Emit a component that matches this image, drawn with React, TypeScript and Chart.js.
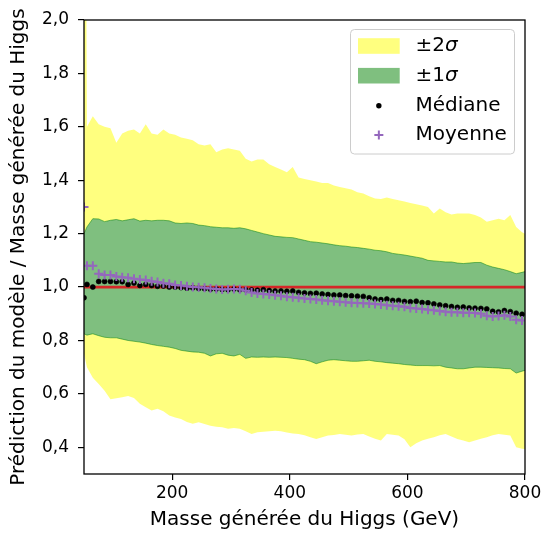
import React, { useEffect, useRef } from "react";
import { Chart, registerables } from "chart.js";

Chart.register(...registerables);

// Masse générée du Higgs (GeV)
const massX = [
  50, 55, 65, 75, 85, 95, 105, 115, 125, 135,
  145, 155, 165, 175, 185, 195, 205, 215, 225, 235,
  245, 255, 265, 275, 285, 295, 305, 315, 325, 335,
  345, 355, 365, 375, 385, 395, 405, 415, 425, 435,
  445, 455, 465, 475, 485, 495, 505, 515, 525, 535,
  545, 555, 565, 575, 585, 595, 605, 615, 625, 635,
  645, 655, 665, 675, 685, 695, 705, 715, 725, 735,
  745, 755, 765, 775, 785, 795, 800,
];

// +2 sigma
const upper2 = [
  4.0, 1.6, 1.64, 1.61, 1.6, 1.595, 1.54, 1.575, 1.585, 1.59,
  1.575, 1.61, 1.575, 1.57, 1.59, 1.575, 1.57, 1.56, 1.555, 1.55,
  1.535, 1.53, 1.535, 1.505, 1.515, 1.52, 1.515, 1.51, 1.48, 1.47,
  1.478, 1.478, 1.46, 1.45, 1.44, 1.43, 1.45, 1.41, 1.405, 1.4,
  1.395, 1.39, 1.39, 1.38, 1.375, 1.37, 1.365, 1.355, 1.35, 1.34,
  1.332, 1.33, 1.335, 1.33, 1.325, 1.32, 1.315, 1.31, 1.305, 1.3,
  1.275, 1.294, 1.28, 1.272, 1.275, 1.275, 1.275, 1.27, 1.26, 1.245,
  1.25, 1.256, 1.25, 1.27, 1.225, 1.205, 1.2,
];

// +1 sigma
const upper1 = [
  1.2, 1.225, 1.256, 1.255, 1.245, 1.25, 1.253, 1.248, 1.252, 1.256,
  1.247, 1.25, 1.248, 1.25, 1.25, 1.248, 1.24, 1.238, 1.24, 1.238,
  1.232, 1.23, 1.226, 1.224, 1.222, 1.222, 1.22, 1.222, 1.218, 1.212,
  1.206, 1.2, 1.195, 1.19, 1.188, 1.186, 1.185, 1.18, 1.175, 1.17,
  1.168, 1.165, 1.162, 1.158, 1.155, 1.153, 1.15, 1.148, 1.145, 1.142,
  1.138, 1.136, 1.132, 1.126, 1.123, 1.12, 1.116, 1.112, 1.108, 1.1,
  1.098, 1.096, 1.094, 1.094, 1.09, 1.088, 1.09, 1.092, 1.092, 1.082,
  1.075, 1.07, 1.065, 1.058, 1.05, 1.055, 1.058,
];

// -1 sigma
const lower1 = [
  0.825, 0.82, 0.825, 0.818, 0.812, 0.81, 0.81, 0.805, 0.8, 0.797,
  0.794, 0.79, 0.785, 0.781, 0.778, 0.775, 0.77, 0.763, 0.76, 0.757,
  0.756, 0.752, 0.742, 0.75, 0.752, 0.745, 0.742, 0.748, 0.733, 0.738,
  0.737, 0.738, 0.737, 0.738, 0.737, 0.736, 0.733, 0.73, 0.728, 0.722,
  0.713, 0.72, 0.726, 0.728, 0.726, 0.724, 0.722, 0.722, 0.724, 0.726,
  0.722, 0.72, 0.717, 0.715, 0.713, 0.71, 0.708, 0.706, 0.706, 0.706,
  0.705, 0.706, 0.7, 0.697, 0.694, 0.694, 0.697, 0.7, 0.7, 0.699,
  0.698, 0.697, 0.695, 0.694, 0.678, 0.685, 0.688,
];

// -2 sigma
const lower2 = [
  0.75, 0.7, 0.66, 0.637, 0.612, 0.58, 0.584, 0.587, 0.592, 0.585,
  0.563, 0.55, 0.538, 0.544, 0.535, 0.519, 0.512, 0.506, 0.495, 0.488,
  0.494, 0.487, 0.481, 0.477, 0.475, 0.469, 0.472, 0.469, 0.46, 0.45,
  0.456, 0.458, 0.46, 0.462, 0.46, 0.455, 0.452, 0.45, 0.445, 0.438,
  0.431, 0.438, 0.444, 0.446, 0.45, 0.447, 0.444, 0.448, 0.45, 0.44,
  0.432, 0.425, 0.45, 0.447, 0.444, 0.43, 0.4, 0.415, 0.425, 0.432,
  0.438, 0.445, 0.45, 0.44, 0.431, 0.425, 0.419, 0.425, 0.432, 0.4375,
  0.445, 0.45, 0.447, 0.444, 0.4, 0.395, 0.394,
];

// Médiane
const median = [
  0.96, 1.01, 1.0, 1.021, 1.021, 1.021, 1.02, 1.02, 1.01, 1.015,
  1.006, 1.01, 1.006, 1.003, 1.004, 1.0, 1.0, 0.998, 0.996, 0.997,
  0.995, 0.994, 0.992, 0.993, 0.991, 0.99, 0.993, 0.99, 0.99, 0.989,
  0.988, 0.99, 0.987, 0.985, 0.985, 0.984, 0.985, 0.98, 0.978, 0.976,
  0.977, 0.974, 0.972, 0.97, 0.97, 0.968, 0.967, 0.966, 0.965, 0.96,
  0.955, 0.953, 0.955, 0.95, 0.95, 0.946, 0.945, 0.947, 0.942, 0.941,
  0.937, 0.933, 0.93, 0.927, 0.924, 0.925, 0.922, 0.921, 0.92, 0.918,
  0.909, 0.907, 0.912, 0.908, 0.902, 0.898, null,
];

// Moyenne
const mean = [
  1.3, 1.08, 1.08, 1.05, 1.045, 1.045, 1.04, 1.037, 1.035, 1.031,
  1.028, 1.026, 1.022, 1.019, 1.014, 1.012, 1.008, 1.006, 1.003, 1.0,
  0.999, 0.997, 0.995, 0.993, 0.991, 0.992, 0.993, 0.992, 0.986, 0.98,
  0.976, 0.974, 0.972, 0.969, 0.967, 0.964, 0.962, 0.96, 0.957, 0.955,
  0.953, 0.951, 0.949, 0.947, 0.945, 0.943, 0.941, 0.94, 0.939, 0.938,
  0.937, 0.935, 0.932, 0.93, 0.928, 0.926, 0.922, 0.92, 0.918, 0.915,
  0.913, 0.91, 0.908, 0.906, 0.906, 0.904, 0.904, 0.903, 0.9, 0.893,
  0.89, 0.892, 0.894, 0.89, 0.878, 0.875, null,
];

const refLineX = [50, 800];
const refLineY = [1.0, 1.0];

const yTicks = [0.4, 0.6, 0.8, 1.0, 1.2, 1.4, 1.6, 1.8, 2.0];
const xTicks = [200, 400, 600, 800];

const legendLabels = ["±2", "±1", "Médiane", "Moyenne"];

const FONT = "'DejaVu Sans', sans-serif";
const YELLOW = "rgba(255,255,0,0.5)";
const GREEN = "rgba(0,128,0,0.5)";
const PURPLE = "#9467bd";
const RED = "#d62728";

const framePlugin = {
  id: "frameBox",
  afterDatasetsDraw(chart: any) {
    const { ctx, chartArea: a } = chart;
    ctx.save();
    ctx.strokeStyle = "#000";
    ctx.lineWidth = 1.3;
    ctx.strokeRect(a.left, a.top, a.right - a.left, a.bottom - a.top);
    ctx.restore();
  },
};

const legendPlugin = {
  id: "boxLegend",
  afterDraw(chart: any) {
    const c = chart.ctx as CanvasRenderingContext2D;
    const a = chart.chartArea;
    const bx = a.right - 174.5;
    const by = a.top + 9.5;
    const bw = 164;
    const bh = 124.5;
    const r = 4;
    c.save();
    c.beginPath();
    c.moveTo(bx + r, by);
    c.lineTo(bx + bw - r, by);
    c.arcTo(bx + bw, by, bx + bw, by + r, r);
    c.lineTo(bx + bw, by + bh - r);
    c.arcTo(bx + bw, by + bh, bx + bw - r, by + bh, r);
    c.lineTo(bx + r, by + bh);
    c.arcTo(bx, by + bh, bx, by + bh - r, r);
    c.lineTo(bx, by + r);
    c.arcTo(bx, by, bx + r, by, r);
    c.closePath();
    c.fillStyle = "rgba(255,255,255,0.8)";
    c.fill();
    c.strokeStyle = "#cccccc";
    c.lineWidth = 1;
    c.stroke();

    const rows = [by + 16.5, by + 46.2, by + 76.2, by + 105.5];
    const hx = bx + 7.5;
    const hw = 41.7;
    const hh = 15.6;
    c.fillStyle = YELLOW;
    c.fillRect(hx, rows[0] - hh / 2, hw, hh);
    c.fillStyle = GREEN;
    c.fillRect(hx, rows[1] - hh / 2, hw, hh);
    const cx = hx + hw / 2;
    c.fillStyle = "#000";
    c.beginPath();
    c.arc(cx, rows[2], 2.7, 0, Math.PI * 2);
    c.fill();
    c.strokeStyle = PURPLE;
    c.lineWidth = 2;
    c.beginPath();
    c.moveTo(cx - 4.5, rows[3]);
    c.lineTo(cx + 4.5, rows[3]);
    c.moveTo(cx, rows[3] - 4.5);
    c.lineTo(cx, rows[3] + 4.5);
    c.stroke();

    const tx = bx + 65;
    c.fillStyle = "#000";
    c.textBaseline = "middle";
    c.textAlign = "left";
    for (let i = 0; i < 2; i++) {
      c.font = `20px ${FONT}`;
      c.fillText(legendLabels[i], tx, rows[i]);
      const w = c.measureText(legendLabels[i]).width;
      c.font = `oblique 20px ${FONT}`;
      c.fillText("σ", tx + w, rows[i]);
    }
    c.font = `20px ${FONT}`;
    c.fillText(legendLabels[2], tx, rows[2]);
    c.fillText(legendLabels[3], tx, rows[3]);
    c.restore();
  },
};

export default function App() {
  const ref = useRef<HTMLCanvasElement>(null);

  useEffect(() => {
    const canvas = ref.current;
    if (!canvas) return;
    const pts = (arr: (number | null)[]) =>
      massX.map((x, i) => ({ x, y: arr[i] }));

    const chart = new Chart(canvas, {
      type: "line",
      data: {
        datasets: [
          {
            label: "Moyenne",
            data: pts(mean),
            showLine: false,
            pointStyle: "cross",
            pointRadius: 4.5,
            pointBorderWidth: 2,
            pointBorderColor: PURPLE,
            pointBackgroundColor: PURPLE,
            borderColor: PURPLE,
            clip: 0,
          },
          {
            label: "Médiane",
            data: pts(median),
            showLine: false,
            pointStyle: "circle",
            pointRadius: 2.5,
            pointBorderWidth: 0.6,
            pointBorderColor: "#000",
            pointBackgroundColor: "#000",
            borderColor: "#000",
            clip: 0,
          },
          {
            label: "ref",
            data: refLineX.map((x, i) => ({ x, y: refLineY[i] })),
            borderColor: RED,
            borderWidth: 2.8,
            pointRadius: 0,
            fill: false,
            clip: 0,
          },
          {
            label: "+1s",
            data: pts(upper1),
            borderColor: GREEN,
            borderWidth: 1,
            backgroundColor: GREEN,
            pointRadius: 0,
            fill: { target: 4 },
            tension: 0,
            clip: 0,
          },
          {
            label: "-1s",
            data: pts(lower1),
            borderColor: GREEN,
            borderWidth: 1,
            pointRadius: 0,
            fill: false,
            tension: 0,
            clip: 0,
          },
          {
            label: "+2s",
            data: pts(upper2),
            borderWidth: 0,
            borderColor: "rgba(0,0,0,0)",
            backgroundColor: YELLOW,
            pointRadius: 0,
            fill: { target: 3 },
            tension: 0,
            clip: 0,
          },
          {
            label: "-2s",
            data: pts(lower2),
            borderWidth: 0,
            borderColor: "rgba(0,0,0,0)",
            backgroundColor: YELLOW,
            pointRadius: 0,
            fill: { target: 4 },
            tension: 0,
            clip: 0,
          },
        ],
      },
      options: {
        animation: false,
        responsive: false,
        devicePixelRatio: 1,
        events: [],
        layout: { padding: { left: 0, top: 20, right: 21, bottom: 0 } },
        plugins: {
          legend: { display: false },
          tooltip: { enabled: false },
          filler: { drawTime: "beforeDatasetsDraw" },
        },
        scales: {
          x: {
            type: "linear",
            min: 50,
            max: 800,
            afterBuildTicks: (s: any) => {
              s.ticks = xTicks.map((v) => ({ value: v }));
            },
            afterFit: (s: any) => {
              s.height = 68;
            },
            border: { display: false },
            grid: {
              drawOnChartArea: false,
              drawTicks: true,
              tickLength: 6,
              color: "#000",
              lineWidth: 1.2,
            },
            ticks: {
              color: "#000",
              font: { family: FONT, size: 17 },
              padding: 3,
              maxRotation: 0,
              callback: (v: any) => String(v),
            },
            title: {
              display: true,
              text: "Masse générée du Higgs (GeV)",
              color: "#000",
              font: { family: FONT, size: 20 },
              padding: { top: 0, bottom: 10 },
            },
          },
          y: {
            type: "linear",
            min: 0.3,
            max: 2.0,
            afterBuildTicks: (s: any) => {
              s.ticks = yTicks.map((v) => ({ value: v }));
            },
            afterFit: (s: any) => {
              s.width = 84;
            },
            border: { display: false },
            grid: {
              drawOnChartArea: false,
              drawTicks: true,
              tickLength: 6,
              color: "#000",
              lineWidth: 1.2,
            },
            ticks: {
              color: "#000",
              font: { family: FONT, size: 17 },
              padding: 9,
              callback: (v: any) => Number(v).toFixed(1).replace(".", ","),
            },
            title: {
              display: true,
              text: "Prédiction du modèle / Masse générée du Higgs",
              color: "#000",
              font: { family: FONT, size: 20 },
              padding: { top: 7, bottom: 0 },
            },
          },
        },
      },
      plugins: [framePlugin, legendPlugin],
    } as any);

    return () => chart.destroy();
  }, []);

  return (
    <div style={{ position: "absolute", left: 0, top: 0, width: 546, height: 542 }}>
      <canvas ref={ref} width={546} height={542} style={{ width: 546, height: 542, display: "block" }} />
    </div>
  );
}
